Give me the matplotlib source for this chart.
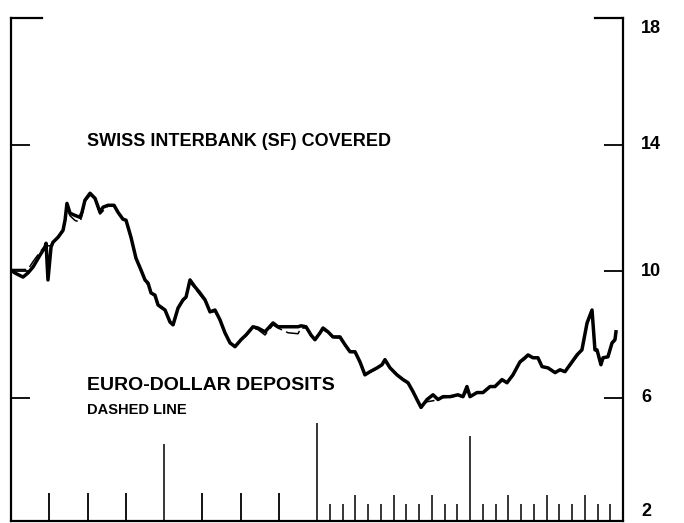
import matplotlib
matplotlib.use("Agg")
import matplotlib.pyplot as plt
import matplotlib.transforms as mtransforms

# months since start of the chart (4 years, 48 months)
months = [0.0, 0.31, 0.94, 1.33, 1.73, 2.27, 2.67, 2.75, 2.90, 3.14, 3.29, 3.69,
          4.08, 4.24, 4.39, 4.63, 5.02, 5.41, 5.57, 5.80, 6.20, 6.59, 6.98, 7.22,
          7.61, 8.08, 8.39, 8.78, 9.02, 9.41, 9.80, 10.20, 10.51, 10.75, 10.98, 11.29,
          11.53, 12.08, 12.47, 12.71, 13.10, 13.49, 13.73, 14.04, 14.43, 14.82, 15.22, 15.61,
          16.00, 16.39, 16.78, 17.18, 17.57, 18.04, 18.43, 18.98, 19.37, 19.92, 20.55, 20.94,
          21.73, 22.51, 22.75, 23.14, 23.53, 23.84, 24.24, 24.47, 24.86, 25.25, 25.80, 26.20,
          26.59, 26.98, 27.37, 27.76, 28.16, 28.71, 29.10, 29.33, 29.73, 30.27, 30.75, 31.14,
          31.53, 31.84, 32.16, 32.63, 33.10, 33.49, 33.88, 34.43, 35.06, 35.45, 35.76, 36.00,
          36.55, 37.02, 37.57, 37.96, 38.51, 38.90, 39.37, 39.92, 40.31, 40.55, 40.94, 41.33,
          41.65, 42.12, 42.67, 43.06, 43.45, 43.84, 44.39, 44.78, 45.18, 45.57, 45.80, 45.96,
          46.27, 46.43, 46.82, 47.14, 47.37, 47.45]

swiss_covered = [10.03, 9.94, 9.81, 9.94, 10.13, 10.50, 10.76, 10.88, 9.72, 10.76, 10.91, 11.07,
                 11.29, 11.61, 12.14, 11.83, 11.76, 11.70, 11.86, 12.24, 12.46, 12.30, 11.86, 12.02,
                 12.08, 12.08, 11.86, 11.64, 11.61, 11.07, 10.41, 10.03, 9.72, 9.62, 9.31, 9.24,
                 8.93, 8.77, 8.39, 8.30, 8.83, 9.09, 9.18, 9.72, 9.50, 9.31, 9.09, 8.71,
                 8.77, 8.46, 8.05, 7.73, 7.61, 7.83, 7.98, 8.24, 8.20, 8.08, 8.36, 8.24,
                 8.24, 8.24, 8.27, 8.24, 7.98, 7.83, 8.05, 8.20, 8.08, 7.92, 7.92, 7.67,
                 7.45, 7.45, 7.13, 6.72, 6.82, 6.94, 7.04, 7.20, 6.94, 6.72, 6.57, 6.47,
                 6.19, 5.94, 5.69, 5.94, 6.09, 5.94, 6.03, 6.03, 6.09, 6.03, 6.35, 6.03,
                 6.16, 6.16, 6.35, 6.35, 6.57, 6.47, 6.72, 7.13, 7.26, 7.35, 7.26, 7.26,
                 6.98, 6.94, 6.79, 6.88, 6.82, 7.04, 7.35, 7.51, 8.36, 8.77, 7.51, 7.51,
                 7.04, 7.26, 7.29, 7.73, 7.83, 8.08]

euro_dollar = [10.05, 10.05, 10.05, 10.05, 10.30, 10.60, 10.80, 10.85, 10.80, 10.80, 10.90, 11.05,
               11.25, 11.55, 12.00, 11.75, 11.60, 11.55, 11.75, 12.20, 12.40, 12.30, 11.80, 11.90,
               12.05, 12.05, 11.85, 11.65, 11.60, 11.05, 10.40, 10.00, 9.70, 9.55, 9.30, 9.20,
               8.90, 8.75, 8.40, 8.35, 8.80, 9.05, 9.15, 9.65, 9.45, 9.25, 9.05, 8.70,
               8.72, 8.42, 8.02, 7.70, 7.63, 7.85, 7.95, 8.20, 8.15, 7.98, 8.30, 8.20,
               8.05, 8.02, 8.20, 8.20, 7.95, 7.85, 8.02, 8.15, 8.05, 7.90, 7.88, 7.65,
               7.45, 7.42, 7.10, 6.75, 6.80, 6.92, 7.02, 7.15, 6.95, 6.72, 6.55, 6.45,
               6.20, 5.95, 5.72, 5.87, 5.90, 5.95, 6.00, 6.02, 6.05, 6.02, 6.20, 6.12,
               6.14, 6.18, 6.32, 6.38, 6.52, 6.50, 6.70, 7.10, 7.22, 7.32, 7.25, 7.22,
               7.00, 6.92, 6.80, 6.86, 6.84, 7.00, 7.30, 7.50, 8.30, 8.72, 7.55, 7.50,
               7.08, 7.22, 7.30, 7.70, 7.80, 8.02]

y_ticks = [2, 6, 10, 14, 18]

# bottom time-scale marks (month positions)
year_ticks = [12, 24, 36]
year_tick_tops = [4.52, 5.21, 4.80]
quarter_ticks_early = [3, 6, 9, 15, 18, 21]
quarter_ticks_late = [27, 30, 33, 39, 42, 45]
month_ticks_late = [25, 26, 28, 29, 31, 32, 34, 35, 37, 38, 40, 41, 43, 44, 46, 47]

plt.rcParams['font.family'] = ['Liberation Sans', 'DejaVu Sans']

fig = plt.figure(figsize=(6.84, 5.23), dpi=100)
ax = fig.add_axes([11 / 684, 2 / 523, 612 / 684, 503 / 523])

ax.plot(months, swiss_covered, color='black', lw=2.5, solid_joinstyle='round')
ax.plot(months, euro_dollar, color='black', lw=1.1, dashes=(10, 3))

ax.set_xlim(0, 48)
ax.set_ylim(2.1, 18)

# frame: left, right and bottom lines, top only as short corner marks
for side in ['left', 'right', 'bottom']:
    ax.spines[side].set_linewidth(1.6)
ax.spines['top'].set_visible(False)
ax.plot([0, 0.05], [1, 1], transform=ax.transAxes, color='black', lw=1.6, clip_on=False)
ax.plot([0.955, 1], [1, 1], transform=ax.transAxes, color='black', lw=1.6, clip_on=False)

ax.set_xticks([])
ax.set_yticks([6, 10, 14])
ax.tick_params(axis='y', direction='in', length=14, width=1.3, left=True, right=True,
               labelleft=False, labelright=False)

# right side labels
trans = mtransforms.blended_transform_factory(ax.transAxes, ax.transData)
for v in y_ticks:
    if v == 18:
        ax.text(1.03, v - 0.05, str(v), transform=trans, ha='left', va='top',
                fontsize=13, fontweight='bold', clip_on=False)
    elif v == 2:
        ax.text(1.03, v + 0.12, str(v), transform=trans, ha='left', va='bottom',
                fontsize=13, fontweight='bold', clip_on=False)
    else:
        ax.text(1.03, v, str(v), transform=trans, ha='left', va='center',
                fontsize=13, fontweight='bold', clip_on=False)

# time scale marks along the bottom
base = 2.1
ax.vlines(year_ticks, base, year_tick_tops, color='black', lw=1.1)
ax.vlines(quarter_ticks_early, base, 2.98, color='black', lw=1.3)
ax.vlines(quarter_ticks_late, base, 2.91, color='black', lw=1.1)
ax.vlines(month_ticks_late, base, 2.63, color='black', lw=1.1)

ax.text(0.124, 0.7535, 'SWISS INTERBANK (SF) COVERED', transform=ax.transAxes,
        fontsize=13, fontweight='bold', ha='left', va='center')
ax.text(0.124, 0.270, 'EURO-DOLLAR DEPOSITS', transform=ax.transAxes,
        fontsize=14, fontweight='bold', ha='left', va='center')
ax.text(0.124, 0.2207, 'DASHED LINE', transform=ax.transAxes,
        fontsize=10.5, fontweight='bold', ha='left', va='center')

fig.savefig('out.png', dpi=100)
